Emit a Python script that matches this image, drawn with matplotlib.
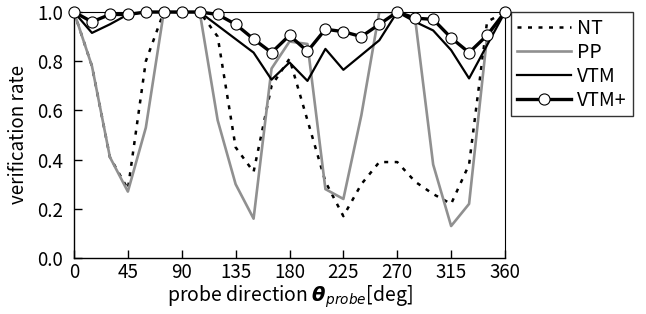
import numpy as np
import matplotlib
matplotlib.use('Agg')
import matplotlib.pyplot as plt

plt.rcParams['font.family'] = ['Noto Sans CJK JP', 'DejaVu Sans']
plt.rcParams['mathtext.fontset'] = 'dejavusans'

# probe directions [deg], every 15 deg
angles = list(range(0, 361, 15))

# verification rates
nt = [1.0, 0.78, 0.41, 0.28, 0.80, 1.0, 1.0, 1.0, 0.90, 0.45, 0.35, 0.70, 0.81,
      0.56, 0.31, 0.17, 0.30, 0.39, 0.39, 0.31, 0.26, 0.22, 0.38, 0.96, 1.0]
pp = [1.0, 0.78, 0.41, 0.27, 0.53, 1.0, 1.0, 1.0, 0.56, 0.30, 0.16, 0.77, 0.88,
      0.87, 0.28, 0.24, 0.58, 1.0, 1.0, 0.97, 0.38, 0.13, 0.22, 0.90, 1.0]
vtm = [1.0, 0.915, 0.95, 0.99, 1.0, 1.0, 1.0, 1.0, 0.945, 0.89, 0.835, 0.725, 0.795,
       0.72, 0.85, 0.765, 0.825, 0.885, 1.0, 0.96, 0.925, 0.845, 0.73, 0.865, 1.0]
vtm_plus = [1.0, 0.96, 0.99, 0.99, 1.0, 1.0, 1.0, 1.0, 0.99, 0.95, 0.89, 0.835, 0.905,
            0.84, 0.93, 0.92, 0.90, 0.95, 1.0, 0.975, 0.97, 0.895, 0.835, 0.905, 1.0]

xticks = list(range(0, 361, 45))
yticks = [0.0, 0.2, 0.4, 0.6, 0.8, 1.0]

fig = plt.figure(figsize=(6.46, 3.14), dpi=100)
ax = fig.add_axes([74 / 646, 1 - 258 / 314, 431 / 646, 246 / 314])

ax.plot(angles, nt, color='black', lw=1.8, linestyle=(0, (1.6, 2.6)), label='NT')
ax.plot(angles, pp, color='#909090', lw=1.9, label='PP')
ax.plot(angles, vtm, color='black', lw=1.6, label='VTM')
ax.plot(angles, vtm_plus, color='black', lw=2.4, marker='o', markersize=8,
        markerfacecolor='white', markeredgecolor='black', markeredgewidth=0.8,
        label='VTM+', clip_on=False, zorder=5)

ax.set_xlim(0, 360)
ax.set_ylim(0, 1.0)
ax.set_xticks(xticks)
ax.set_yticks(yticks)
ax.set_yticklabels(['%.1f' % v for v in yticks])
ax.tick_params(direction='in', length=6, width=1, labelsize=13.5)
ax.tick_params(axis='y', pad=8)
ax.tick_params(axis='x', pad=3)
for s in ax.spines.values():
    s.set_linewidth(1)
ax.spines['top'].set_linewidth(0.8)
ax.spines['right'].set_linewidth(0.8)

ax.set_xlabel(r'probe direction $\boldsymbol{\theta}_{probe}$[deg]', fontsize=14, labelpad=0)
ax.set_ylabel('verification rate', fontsize=13.5, labelpad=6)

leg = fig.legend(loc='upper left', bbox_to_anchor=(511 / 646, 1 - 12 / 314),
                 fontsize=14, frameon=True, fancybox=False, handlelength=2.8,
                 handletextpad=0.3, labelspacing=0.15, borderpad=0.3,
                 borderaxespad=0)
leg.get_frame().set_edgecolor('black')
leg.get_frame().set_linewidth(1)

plt.savefig('out.png', dpi=100)
